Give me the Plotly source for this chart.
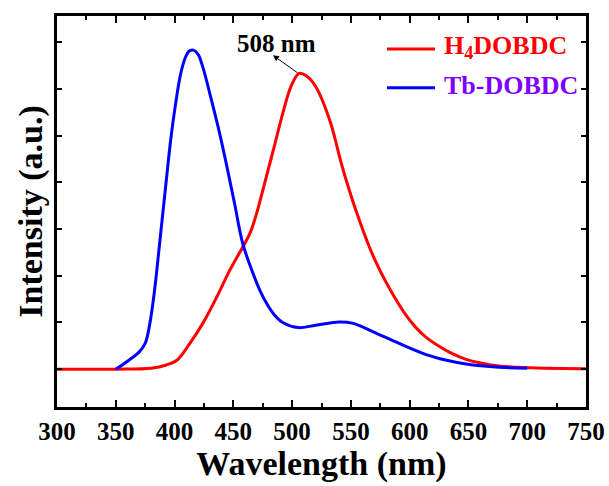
import plotly.graph_objects as go

# ---- data ----
red_wl = [300, 350, 380, 393, 402, 413, 424, 436, 447, 455, 464, 470, 476, 484, 492, 499,
          506, 512, 520, 532, 543, 554, 569, 583, 597, 605, 614, 625, 634, 648, 676, 704, 750]
red_val = [0, 0, 0.02, 0.09, 0.19, 0.55, 0.98, 1.55, 2.12, 2.48, 2.90, 3.35, 3.92, 4.69, 5.47, 6.05,
           6.33, 6.28, 6.05, 5.33, 4.30, 3.42, 2.42, 1.72, 1.15, 0.90, 0.68, 0.49, 0.36, 0.21, 0.07, 0.03, 0.01]

blue_wl = [350, 360, 370, 375, 379, 383, 387, 393, 397, 401, 405, 409, 412, 416, 420, 424, 430, 437,
           444, 451, 458, 466, 472, 478, 485, 492, 505, 520, 540, 552, 569, 591, 614, 625, 648, 676, 700]
blue_val = [0, 0.17, 0.37, 0.55, 0.98, 1.69, 2.62, 4.05, 4.97, 5.70, 6.30, 6.66, 6.80, 6.83, 6.74, 6.47, 5.9, 5.19,
            4.4, 3.55, 2.69, 2.10, 1.72, 1.42, 1.16, 1.00, 0.89, 0.94, 1.01, 0.98, 0.80, 0.55, 0.31, 0.23, 0.11, 0.04, 0.02]

series_names = ["H<sub>4</sub>DOBDC", "Tb-DOBDC"]
peak_label = "508 nm"
x_ticks = [300, 350, 400, 450, 500, 550, 600, 650, 700, 750]

FONT = "Liberation Serif"

fig = go.Figure()
fig.add_trace(go.Scatter(x=red_wl, y=red_val, mode="lines", name=series_names[0],
                         line=dict(color="#FF0000", width=3, shape="spline", smoothing=1.0),
                         showlegend=False))
fig.add_trace(go.Scatter(x=blue_wl, y=blue_val, mode="lines", name=series_names[1],
                         line=dict(color="#0000FF", width=3, shape="spline", smoothing=1.0),
                         showlegend=False))

fig.update_layout(
    width=609, height=486,
    margin=dict(l=57, r=23, t=16, b=79),
    paper_bgcolor="white", plot_bgcolor="white",
    font=dict(family=FONT, color="black"),
)

fig.update_xaxes(
    range=[300, 750], tickmode="array", tickvals=x_ticks, ticktext=[str(v) for v in x_ticks],
    ticks="inside", ticklen=7, tickwidth=2, tickcolor="black",
    minor=dict(dtick=25, tick0=300, ticks="inside", ticklen=4, tickwidth=2, tickcolor="black"),
    showline=True, linewidth=2.5, linecolor="black", mirror="allticks",
    showgrid=False, zeroline=False,
    tickfont=dict(family=FONT, size=25, color="black", weight="bold"),
    title=dict(text="<b>Wavelength (nm)</b>", font=dict(family=FONT, size=34, color="black"), standoff=8),
    automargin=False,
)
fig.update_yaxes(
    range=[-0.81, 7.56], tickmode="linear", tick0=0, dtick=1,
    ticks="inside", ticklen=5, tickwidth=2, tickcolor="black",
    showticklabels=False,
    showline=True, linewidth=2.5, linecolor="black", mirror="allticks",
    showgrid=False, zeroline=False,
    title=dict(text="<b>Intensity (a.u.)</b>", font=dict(family=FONT, size=34, color="black"), standoff=2),
    automargin=False,
)

# peak annotation
fig.add_annotation(x=486.7, y=6.97, xref="x", yref="y", text="<b>" + peak_label + "</b>",
                   showarrow=False, font=dict(family=FONT, size=25, color="black"))
fig.add_annotation(x=483.7, y=6.72, ax=505.9, ay=6.32, xref="x", yref="y", axref="x", ayref="y",
                   text="", showarrow=True, arrowhead=2, arrowsize=1.2, arrowwidth=1, arrowcolor="black")

# legend (manual)
leg_colors = ["#FF0000", "#0000FF"]
leg_text_colors = ["#FF0000", "#8000FF"]
leg_y = [0.9155, 0.8165]
for name, lc, tc, yy in zip(series_names, leg_colors, leg_text_colors, leg_y):
    fig.add_shape(type="line", xref="paper", yref="paper", x0=0.6238, x1=0.7146, y0=yy, y1=yy,
                  line=dict(color=lc, width=3))
    fig.add_annotation(x=0.727, y=yy + 0.005, xref="paper", yref="paper", xanchor="left", yanchor="middle",
                       text="<b>" + name + "</b>", showarrow=False,
                       font=dict(family=FONT, size=26, color=tc))

fig.write_html("out.html")
